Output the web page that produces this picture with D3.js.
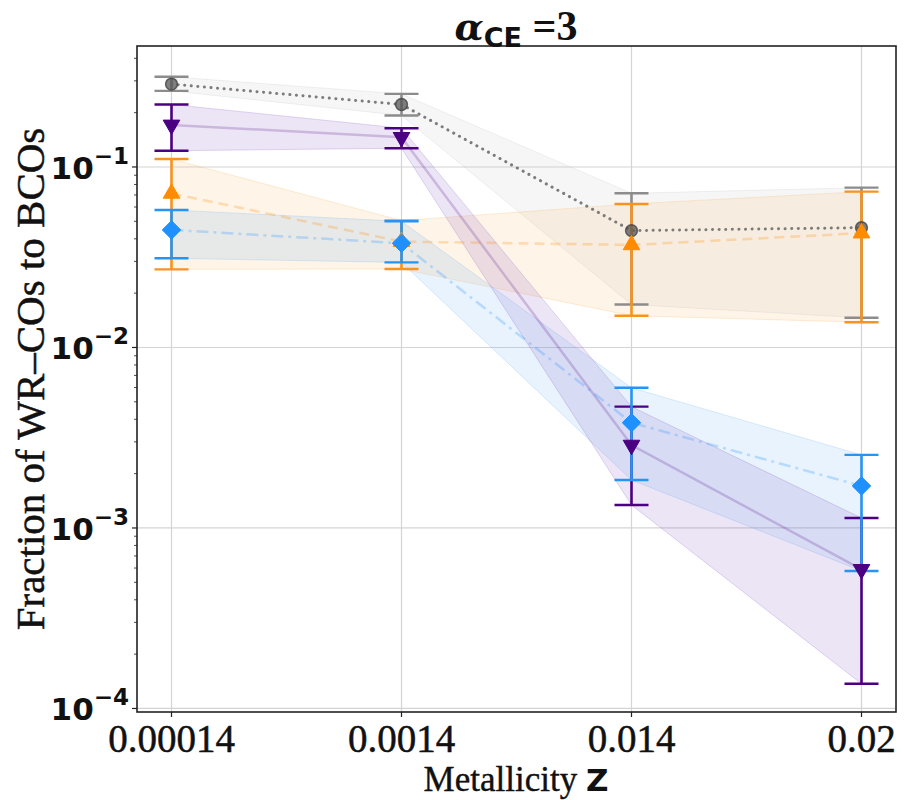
<!DOCTYPE html>
<html><head><meta charset="utf-8">
<script src="https://cdn.jsdelivr.net/npm/d3@7"></script>
<style>body{margin:0;background:#fff}svg{display:block}</style>
</head><body>
<svg id="chart" width="905" height="800"></svg>
<script>
// ---- data ----
const categories = ["0.00014", "0.0014", "0.014", "0.02"];
const yTickValues = [1e-4, 1e-3, 1e-2, 1e-1];
const yTickExps = ["−4", "−3", "−2", "−1"];

const grayVal = [0.288, 0.222, 0.0444, 0.0461];
const grayLo  = [0.264, 0.193, 0.0173, 0.0146];
const grayHi  = [0.316, 0.254, 0.0715, 0.0768];

const purpleVal = [0.171, 0.146, 0.00288, 0.00059];
const purpleLo  = [0.123, 0.127, 0.00134, 0.000137];
const purpleHi  = [0.222, 0.164, 0.0047, 0.001135];

const orangeVal = [0.0714, 0.0386, 0.037, 0.043];
const orangeLo  = [0.0271, 0.0272, 0.0150, 0.0138];
const orangeHi  = [0.1107, 0.0505, 0.0624, 0.073];

const blueVal = [0.0448, 0.0378, 0.00383, 0.00171];
const blueLo  = [0.0312, 0.0296, 0.001845, 0.000578];
const blueHi  = [0.0578, 0.050, 0.00598, 0.00254];

// ---- layout ----
const L = 137, R = 896, T = 46, B = 712;
const svg = d3.select("#chart");
const x = d3.scalePoint().domain(categories).range([L, R]).padding(0.15);
const y = d3.scaleLog().domain([0.956e-4, 0.468]).range([B, T]);

function build(val, lo, hi) {
  return categories.map((c, i) => ({c, v: val[i], lo: lo[i], hi: hi[i]}));
}
const series = [
  {name: "gray", data: build(grayVal, grayLo, grayHi), color: "#7f7f7f", band: "#bdbdbd", bandOp: 0.14,
   line: "#666", lineOp: 0.85, dash: "0.1,6.5", lw: 3, cap: "round", marker: "circle", mfill: "#555", mop: 0.75, bar: "#8c8c8c"},
  {name: "purple", data: build(purpleVal, purpleLo, purpleHi), color: "#4B0082", band: "#8a5cc0", bandOp: 0.16,
   line: "#4B0082", lineOp: 0.2, dash: null, lw: 2.5, cap: "butt", marker: "down", mfill: "#4B0082", mop: 1, bar: "#4B0082"},
  {name: "orange", data: build(orangeVal, orangeLo, orangeHi), color: "#FF8C00", band: "#f9b35f", bandOp: 0.15,
   line: "#FF8C00", lineOp: 0.25, dash: "10,6", lw: 2.5, cap: "butt", marker: "up", mfill: "#FF8C00", mop: 1, bar: "#F7931E"},
  {name: "blue", data: build(blueVal, blueLo, blueHi), color: "#1E90FF", band: "#64aef5", bandOp: 0.15,
   line: "#1E90FF", lineOp: 0.25, dash: "12,5,3,5", lw: 2.5, cap: "butt", marker: "diamond", mfill: "#1E90FF", mop: 1, bar: "#2794F2"}
];

// ---- grid ----
const gridG = svg.append("g");
gridG.selectAll("line.gy").data(yTickValues).join("line")
  .attr("x1", L).attr("x2", R).attr("y1", d => y(d)).attr("y2", d => y(d))
  .attr("stroke", "#d4d4d4").attr("stroke-width", 1.2);
gridG.selectAll("line.gx").data(categories).join("line")
  .attr("x1", d => x(d)).attr("x2", d => x(d)).attr("y1", T).attr("y2", B)
  .attr("stroke", "#d4d4d4").attr("stroke-width", 1.2);

// ---- bands ----
const area = d3.area().x(d => x(d.c)).y0(d => y(d.lo)).y1(d => y(d.hi));
["gray", "orange", "blue", "purple"].forEach(n => {
  const s = series.find(t => t.name === n);
  svg.append("path").datum(s.data).attr("d", area)
    .attr("fill", s.band).attr("fill-opacity", s.bandOp)
    .attr("stroke", s.band).attr("stroke-opacity", s.bandOp * 1.5).attr("stroke-width", 1);
});

// ---- connecting lines ----
const line = d3.line().x(d => x(d.c)).y(d => y(d.v));
series.forEach(s => {
  svg.append("path").datum(s.data).attr("d", line).attr("fill", "none")
    .attr("stroke", s.line).attr("stroke-opacity", s.lineOp).attr("stroke-width", s.lw)
    .attr("stroke-linecap", s.cap).attr("stroke-dasharray", s.dash);
});

// ---- error bars & markers ----
const capHalf = 17;
const diamond = {draw(ctx, size) { const r = Math.sqrt(size / 2); ctx.moveTo(0, -r); ctx.lineTo(r, 0); ctx.lineTo(0, r); ctx.lineTo(-r, 0); ctx.closePath(); }};
["gray", "purple", "orange", "blue"].forEach(n => {
  const s = series.find(t => t.name === n);
  const g = svg.append("g");
  g.selectAll("line.v").data(s.data).join("line")
    .attr("x1", d => x(d.c)).attr("x2", d => x(d.c)).attr("y1", d => y(d.lo)).attr("y2", d => y(d.hi))
    .attr("stroke", s.bar).attr("stroke-width", 2.6);
  ["lo", "hi"].forEach(k => {
    g.selectAll("line.c" + k).data(s.data).join("line")
      .attr("x1", d => x(d.c) - capHalf).attr("x2", d => x(d.c) + capHalf)
      .attr("y1", d => y(d[k])).attr("y2", d => y(d[k]))
      .attr("stroke", s.bar).attr("stroke-width", 2.4);
  });
});
series.forEach(s => {
  const g = svg.append("g");
  let sym, size, rot = 0;
  if (s.marker === "circle") { sym = d3.symbolCircle; size = 110; }
  if (s.marker === "down") { sym = d3.symbolTriangle; size = 120; rot = 180; }
  if (s.marker === "up") { sym = d3.symbolTriangle; size = 120; }
  if (s.marker === "diamond") { sym = diamond; size = 170; }
  g.selectAll("path").data(s.data).join("path")
    .attr("d", d3.symbol().type(sym).size(size))
    .attr("transform", d => `translate(${x(d.c)},${y(d.v)}) rotate(${rot})`)
    .attr("fill", s.mfill).attr("fill-opacity", s.mop)
    .attr("stroke", s.marker === "circle" ? "#444" : s.mfill).attr("stroke-opacity", s.marker === "circle" ? 0.8 : 1)
    .attr("stroke-width", s.marker === "circle" ? 1.5 : 1);
});

// ---- frame ----
svg.append("rect").attr("x", L).attr("y", T).attr("width", R - L).attr("height", B - T)
  .attr("fill", "none").attr("stroke", "#222").attr("stroke-width", 1.6);

// ---- y axis ticks ----
const minor = [];
for (let e = -4; e <= -1; e++) for (let m = 2; m <= 9; m++) { const v = m * Math.pow(10, e); if (v >= 0.956e-4 && v <= 0.468) minor.push(v); }
svg.append("g").selectAll("line").data(minor).join("line")
  .attr("x1", L - 3).attr("x2", L).attr("y1", d => y(d)).attr("y2", d => y(d))
  .attr("stroke", "#222").attr("stroke-width", 0.8);
svg.append("g").selectAll("line").data(yTickValues).join("line")
  .attr("x1", L - 5).attr("x2", L).attr("y1", d => y(d)).attr("y2", d => y(d))
  .attr("stroke", "#222").attr("stroke-width", 1.2);
const yl = svg.append("g").selectAll("text").data(yTickValues).join("text")
  .attr("x", L - 8).attr("y", d => y(d) + 12)
  .attr("text-anchor", "end").attr("font-family", "DejaVu Sans").attr("font-weight", "bold")
  .attr("font-size", 31).attr("fill", "#111");
yl.append("tspan").text("10");
yl.append("tspan").attr("dy", -15).attr("font-size", 23).text((d, i) => yTickExps[i]);

// ---- x axis ticks ----
svg.append("g").selectAll("text").data(categories).join("text")
  .attr("x", d => x(d)).attr("y", 752).attr("text-anchor", "middle")
  .attr("font-family", "Liberation Serif").attr("font-size", 39).attr("fill", "#111")
  .attr("stroke", "#111").attr("stroke-width", 0.5)
  .text(d => d);
svg.append("g").selectAll("line").data(categories).join("line")
  .attr("x1", d => x(d)).attr("x2", d => x(d)).attr("y1", B).attr("y2", B + 5)
  .attr("stroke", "#222").attr("stroke-width", 1.2);

// ---- axis labels ----
const xlab = svg.append("text").attr("x", 516).attr("y", 791).attr("text-anchor", "middle")
  .attr("font-family", "Liberation Serif").attr("font-size", 35).attr("fill", "#111")
  .attr("stroke", "#111").attr("stroke-width", 0.4);
xlab.append("tspan").text("Metallicity ");
xlab.append("tspan").attr("font-family", "DejaVu Sans").attr("font-weight", "bold").attr("font-size", 31).attr("stroke-width", 0).text("Z");

svg.append("text").attr("transform", `translate(44,${(T + B) / 2}) rotate(-90)`)
  .attr("text-anchor", "middle").attr("font-family", "Liberation Serif").attr("font-size", 41).attr("fill", "#111")
  .attr("stroke", "#111").attr("stroke-width", 0.5)
  .text("Fraction of WR–COs to BCOs");

// ---- title ----
const title = svg.append("text").attr("x", 516).attr("y", 40).attr("text-anchor", "middle")
  .attr("font-family", "Liberation Serif").attr("font-size", 42).attr("fill", "#111");
title.append("tspan").attr("font-style", "italic").attr("font-family", "DejaVu Serif").attr("font-weight", "bold").attr("font-size", 38).text("α");
title.append("tspan").attr("font-family", "DejaVu Sans").attr("font-weight", "bold").attr("font-size", 27).attr("dy", 7).text("CE");
title.append("tspan").attr("dy", -7).attr("font-weight", "bold").text(" =3");
</script>
</body></html>
